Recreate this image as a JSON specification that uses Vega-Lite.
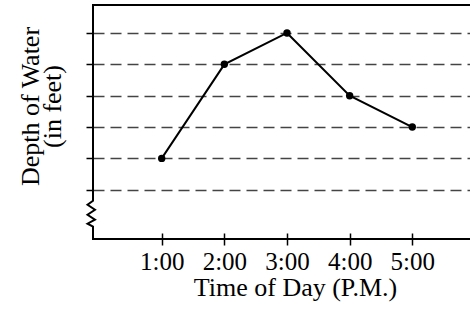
{
  "$schema": "https://vega.github.io/schema/vega-lite/v6.json",
  "width": 377,
  "height": 234,
  "autosize": {"type": "none"},
  "padding": {"left": 93, "top": 5, "right": 0, "bottom": 74},
  "background": "white",
  "config": {
    "view": {"stroke": null},
    "font": "Liberation Serif",
    "axis": {"labelFont": "Liberation Serif", "titleFont": "Liberation Serif", "labelColor": "black", "titleColor": "black", "titleFontWeight": "normal"}
  },
  "datasets": {
    "depth": [
      {"hour": 1, "depth": 2},
      {"hour": 2, "depth": 5},
      {"hour": 3, "depth": 6},
      {"hour": 4, "depth": 4},
      {"hour": 5, "depth": 3}
    ],
    "frame": [
      {"i": 1, "fx": 5.921, "fy": 6.892},
      {"i": 2, "fx": -0.0966, "fy": 6.892},
      {"i": 3, "fx": -0.0966, "fy": 0.65},
      {"i": 4, "fx": -0.184, "fy": 0.522},
      {"i": 5, "fx": -0.065, "fy": 0.363},
      {"i": 6, "fx": -0.184, "fy": 0.204},
      {"i": 7, "fx": -0.065, "fy": 0.045},
      {"i": 8, "fx": -0.184, "fy": -0.083},
      {"i": 9, "fx": -0.0966, "fy": -0.178},
      {"i": 10, "fx": -0.0966, "fy": -0.57},
      {"i": 11, "fx": 5.921, "fy": -0.57}
    ]
  },
  "layer": [
    {
      "data": {"name": "frame"},
      "mark": {"type": "line", "color": "black", "strokeWidth": 2, "strokeJoin": "miter", "strokeCap": "butt", "clip": false},
      "encoding": {
        "x": {
          "field": "fx", "type": "quantitative",
          "scale": {"domain": [-0.0966, 5.921], "nice": false, "zero": false},
          "axis": {
            "values": [1, 2, 3, 4, 5],
            "labelExpr": "datum.value + ':00'",
            "offset": -6,
            "tickSize": 12,
            "tickWidth": 1.5,
            "tickColor": "black",
            "domain": false,
            "grid": false,
            "labelFontSize": 25,
            "labelPadding": 4,
            "labelFlush": false,
            "title": "Time of Day (P.M.)",
            "titleFontSize": 26,
            "titleX": 202,
            "titleY": 62,
            "titleBaseline": "alphabetic"
          }
        },
        "y": {
          "field": "fy", "type": "quantitative",
          "scale": {"domain": [-0.57, 6.892], "nice": false, "zero": false},
          "axis": {
            "values": [1, 2, 3, 4, 5, 6],
            "tickSize": 7,
            "tickWidth": 1.5,
            "tickColor": "black",
            "domain": false,
            "labels": false,
            "grid": true,
            "gridDash": [11, 6],
            "gridColor": "#444444",
            "gridWidth": 1.6,
            "title": ["Depth of Water", "(in feet)"],
            "titleFontSize": 26,
            "titleLineHeight": 22,
            "titleAngle": -90,
            "titleAlign": "center",
            "titleBaseline": "middle",
            "titleX": -63,
            "titleY": 101
          }
        },
        "order": {"field": "i", "type": "quantitative"}
      }
    },
    {
      "data": {"name": "depth"},
      "mark": {"type": "line", "color": "black", "strokeWidth": 2},
      "encoding": {
        "x": {"field": "hour", "type": "quantitative"},
        "y": {"field": "depth", "type": "quantitative"}
      }
    },
    {
      "data": {"name": "depth"},
      "mark": {"type": "point", "filled": true, "color": "black", "size": 55, "opacity": 1},
      "encoding": {
        "x": {"field": "hour", "type": "quantitative"},
        "y": {"field": "depth", "type": "quantitative"}
      }
    }
  ]
}
